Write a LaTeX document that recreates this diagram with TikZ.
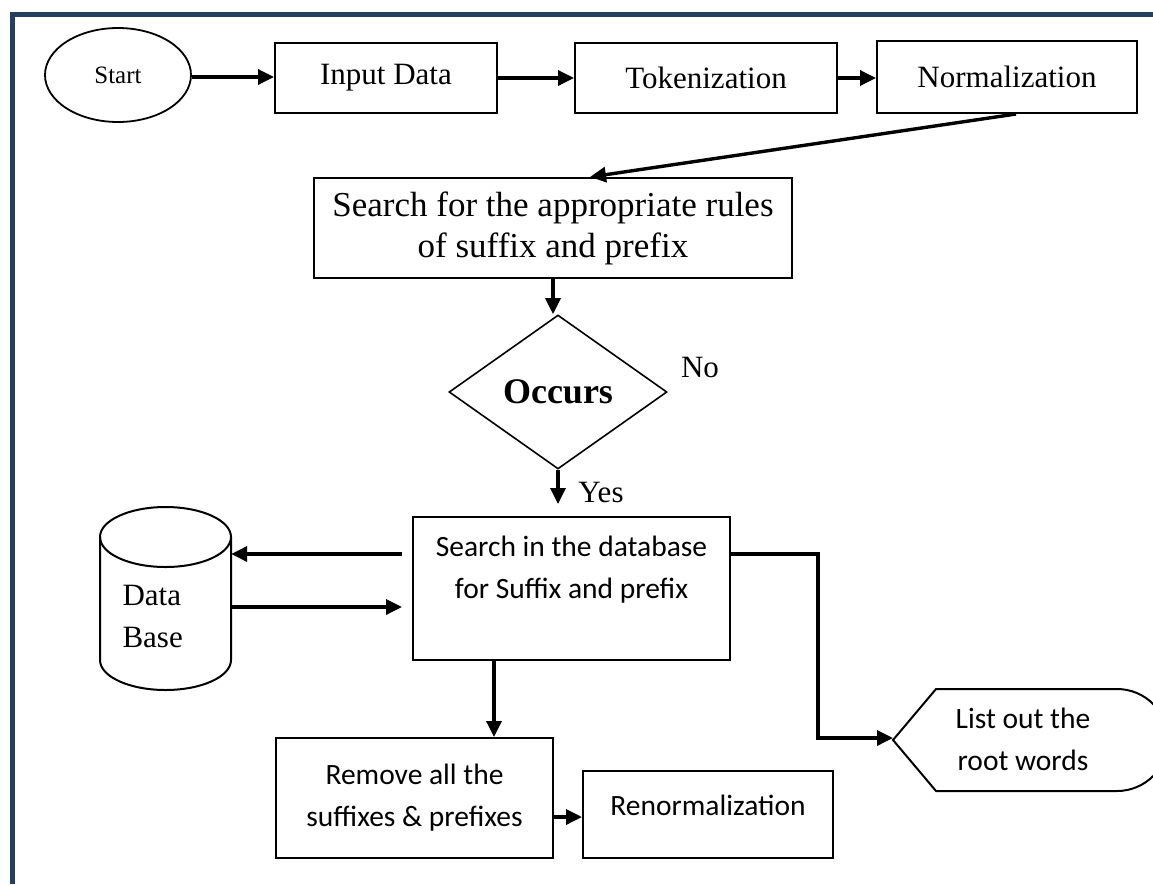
\documentclass[tikz,border=0pt]{standalone}
\usepackage{fontspec}
\setmainfont{Liberation Serif}
\newfontfamily\calfont{Carlito}
\usetikzlibrary{arrows.meta,shapes.geometric}
\definecolor{framecol}{RGB}{36,64,97}
\newcommand\serifA{\fontsize{31}{42}\selectfont}
\newcommand\serifC{\fontsize{35}{41}\selectfont}
\newcommand\serifS{\fontsize{25}{28}\selectfont}
\newcommand\serifB{\bfseries\fontsize{36}{40}\selectfont}
\newcommand\sansA{\calfont\fontsize{29.5}{42}\selectfont}
\begin{document}
\begin{tikzpicture}[x=1pt,y=-1pt,
  box/.style={draw,line width=2pt,rectangle,inner sep=0pt},
  arr/.style={line width=3.4pt,-{Triangle[length=16pt,width=15pt]}},
  shapeline/.style={line width=2pt}]
\useasboundingbox (0,0) rectangle (1153,884);
\fill[white] (0,0) rectangle (1153,884);
% frame
\draw[framecol,line width=5pt] (12.5,884) -- (12.5,14.5) -- (1153,14.5);

% top row
\node[draw,ellipse,line width=1.8pt,minimum width=146pt,minimum height=94pt,inner sep=0pt,font=\serifS] (start) at (118,75) {Start};
\node[box,minimum width=222pt,minimum height=70pt,font=\serifA] (input) at (386,78) {Input Data};
\node[box,minimum width=262pt,minimum height=70pt,font=\serifA] (tok) at (706,78) {Tokenization};
\node[box,minimum width=260pt,minimum height=72pt,font=\serifA] (norm) at (1007,77) {Normalization};

\node[box,minimum width=478pt,minimum height=100pt,font=\serifC,align=center] (search) at (553,228) {Search for the appropriate rules\\of suffix and prefix};
\node[draw,diamond,line width=1.6pt,minimum width=218pt,minimum height=154pt,inner sep=0pt,font=\serifB] (occ) at (558,392) {Occurs};
\node[font=\serifA] (no) at (700,367) {No};
\node[font=\serifA] (yes) at (601,492) {Yes};

% search in database
\node[box,minimum width=317pt,minimum height=143pt] (search2) at (571.5,588.5) {};
\node[font=\sansA,align=center] (s2text) at (571.5,570) {Search in the database\\for Suffix and prefix};

% database cylinder
\node[minimum width=131pt,minimum height=183pt,inner sep=0pt] (db) at (165.5,598.5) {};
\draw[shapeline] (100,537) -- (100,660) arc[start angle=180,end angle=0,x radius=65.5,y radius=30] -- (231,537);
\draw[shapeline] (165.5,537) ellipse[x radius=65.5,y radius=30];
\node[font=\serifA,align=left,anchor=west] (dbtext) at (119,616) {Data\\Base};

% display shape
\draw[shapeline] (893,740) -- (936,689) -- (1117,689) .. controls (1145.2,689) and (1168,711.8) .. (1168,740) .. controls (1168,768.2) and (1145.2,791) .. (1117,791) -- (936,791) -- cycle;
\node[font=\sansA,align=center] (disp) at (1023,739) {List out the\\root words};
\coordinate (dispL) at (893,738);

% bottom boxes
\node[box,minimum width=277pt,minimum height=120pt,font=\sansA,align=center] (remove) at (414.5,798) {Remove all the\\suffixes \& prefixes};
\node[box,minimum width=250pt,minimum height=87pt] (renorm) at (708,814.5) {};
\node[font=\sansA] (rtext) at (708,805) {Renormalization};

% helper coordinates
\coordinate (dbup) at (0,554);
\coordinate (dbdn) at (0,607);
\coordinate (s2l) at ([xshift=-10pt]search2.west);
\coordinate (turn) at (818,738);
\coordinate (xr) at (494,0);
\coordinate (ry) at (0,817);
\coordinate (ay) at (0,77);

% connectors
\draw[arr] (start.east |- ay) -- (input.west |- ay);
\draw[arr] (input.east) -- (tok.west);
\draw[arr] (tok.east) -- (norm.west |- tok.east);
\draw[arr] ([xshift=9pt]norm.south) -- ([xshift=37pt]search.north);
\draw[arr] (search.south) -- (search.south |- occ.north);
\draw[arr] (occ.south) -- ([yshift=12pt]search2.north -| occ.south);
\draw[arr] (s2l |- dbup) -- (db.east |- dbup);
\draw[arr] (db.east |- dbdn) -- (s2l |- dbdn);
\draw[arr] (search2.east |- dbup) -| (turn) -- (dispL);
\draw[arr] (search2.south -| xr) -- (remove.north -| xr);
\draw[arr] (remove.east |- ry) -- (renorm.west |- ry);
\end{tikzpicture}
\end{document}
